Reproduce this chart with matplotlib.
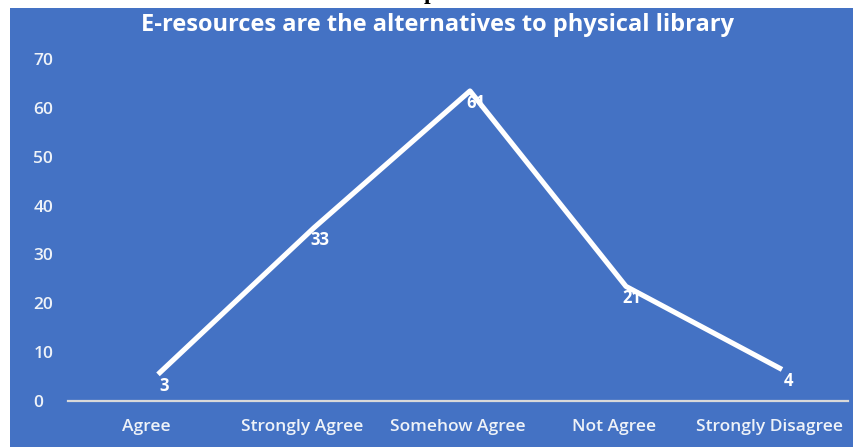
import matplotlib
matplotlib.use("Agg")
from matplotlib import pyplot as plt
from matplotlib.patches import Rectangle
from matplotlib.transforms import ScaledTranslation

categories = ["Agree", "Strongly Agree", "Somehow Agree", "Not Agree", "Strongly Disagree"]
values = [3, 33, 61, 21, 4]
y_ticks = [0, 10, 20, 30, 40, 50, 60, 70]
title = "E-resources are the alternatives to physical library"

blue = "#4472C4"
font = "Open Sans"

dpi = 100
fig = plt.figure(figsize=(8.54, 4.47), dpi=dpi)
fig.patch.set_facecolor("white")

# blue chart area (the picture is a crop of a page, white strip on top/left)
fig.patches.append(Rectangle((10 / 854, 0), 844 / 854, 439 / 447,
                             transform=fig.transFigure, facecolor=blue,
                             edgecolor="none", zorder=-5))

# cut-off glyph from the page above the chart
fig.text(430 / 854, 1 + 1 / 447, "p", family="Liberation Serif", fontweight="bold",
         fontsize=17, color="black", ha="center", va="baseline")

ax = fig.add_axes([68 / 854, 46 / 447, 780 / 854, 342 / 447])
ax.set_zorder(2)
ax.set_facecolor("none")
x = list(range(len(categories)))

# the line in the source sits a little up and right of its labels
shift = ScaledTranslation(12 / dpi, 12 / dpi, fig.dpi_scale_trans)
ax.plot(x, values, color="white", linewidth=3.7, solid_capstyle="butt",
        transform=ax.transData + shift, clip_on=False, zorder=3)

lab_shift = ScaledTranslation(18 / dpi, 0, fig.dpi_scale_trans)
for xi, v in zip(x, values):
    ax.text(xi, v, str(v), color="white", fontsize=12, fontweight="bold",
            family=font, ha="center", va="center",
            transform=ax.transData + lab_shift, zorder=4)

ax.set_xlim(-0.5, len(categories) - 0.5)
ax.set_ylim(0, 70)
ax.set_yticks(y_ticks)
ax.set_xticks(x)
ax.set_xticklabels(categories)

for s in ["top", "right", "left"]:
    ax.spines[s].set_visible(False)
ax.spines["bottom"].set_color("#d9d9d9")
ax.spines["bottom"].set_linewidth(1.6)

ax.tick_params(axis="both", length=0, colors="#eef2f8", labelsize=12.5)
ax.tick_params(axis="x", pad=13)
ax.tick_params(axis="y", pad=25)
for lbl in ax.get_yticklabels() + ax.get_xticklabels():
    lbl.set_family(font)
    lbl.set_fontweight("semibold")
for lbl in ax.get_yticklabels():
    lbl.set_horizontalalignment("left")

# baseline of the title sits at y=31 px from the top
fig.text(438 / 854, 1 - 31 / 447, title, color="white", fontsize=17,
         fontweight="bold", family=font, ha="center", va="baseline", zorder=3)

fig.savefig("out.png", dpi=dpi)
